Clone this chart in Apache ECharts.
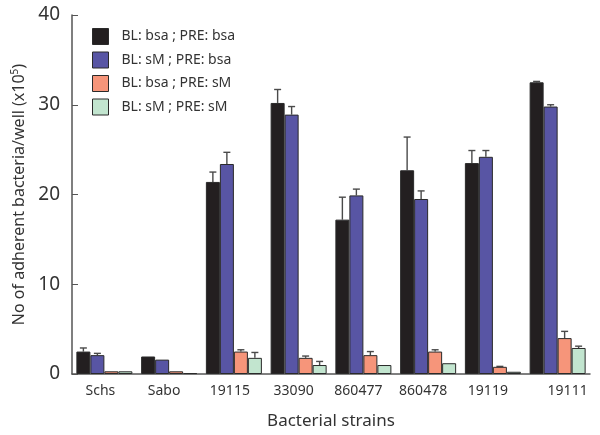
<!DOCTYPE html>
<html><head><meta charset="utf-8">
<script src="https://cdn.jsdelivr.net/npm/echarts@6/dist/echarts.min.js"></script>
<style>html,body{margin:0;padding:0;background:#fff}#c{width:600px;height:435px}</style>
</head><body><div id="c"></div>
<script>
const categories = ['Schs','Sabo','19115','33090','860477','860478','19119','19111'];
const seriesNames = ['BL: bsa ; PRE: bsa','BL: sM ; PRE: bsa','BL: bsa ; PRE: sM','BL: sM ; PRE: sM'];
const bsaBsa = [2.5, 1.95, 21.4, 30.2, 17.2, 22.7, 23.5, 32.5];
const bsaBsaErr = [0.4, 0, 1.1, 1.5, 2.5, 3.7, 1.4, 0.1];
const smBsa = [2.1, 1.6, 23.4, 28.9, 19.9, 19.5, 24.2, 29.8];
const smBsaErr = [0.2, 0, 1.3, 0.9, 0.7, 0.9, 0.7, 0.2];
const bsaSm = [0.3, 0.3, 2.5, 1.8, 2.1, 2.5, 0.8, 4.0];
const bsaSmErr = [0, 0, 0.2, 0.2, 0.4, 0.2, 0.05, 0.75];
const smSm = [0.3, 0.1, 1.8, 1.0, 1.0, 1.2, 0.25, 2.9];
const smSmErr = [0, 0, 0.6, 0.4, 0, 0, 0, 0.2];
const yTicks = [0, 10, 20, 30, 40];

const colors = ['#231f20', '#5855a4', '#f6957a', '#c2e5cf'];
const values = [bsaBsa, smBsa, bsaSm, smSm];
const errs = [bsaBsaErr, smBsaErr, bsaSmErr, smSmErr];
const BW = 14;
const FONT = 'Noto Sans';

const chart = echarts.init(document.getElementById('c'), null, {renderer: 'canvas'});

const series = [];
values.forEach((v, i) => {
  series.push({
    name: seriesNames[i], type: 'bar', data: v, barWidth: BW, barGap: '0%',
    itemStyle: {color: colors[i], borderColor: '#2a2a2a', borderWidth: 1},
    emphasis: {disabled: true}
  });
});
values.forEach((v, i) => {
  const d = v.map((val, k) => [k, val, val + errs[i][k]]);
  series.push({
    type: 'custom', silent: true, z: 1,
    data: d,
    renderItem: (params, api) => {
      const k = api.value(0);
      const lo = api.coord([k, api.value(1)]);
      const hi = api.coord([k, api.value(2)]);
      if (api.value(2) - api.value(1) <= 0) return null;
      const x = lo[0] + (i - 1.5) * BW;
      const style = {stroke: '#4a4a4a', lineWidth: 1.4};
      return {type: 'group', children: [
        {type: 'line', shape: {x1: x, y1: lo[1], x2: x, y2: hi[1]}, style},
        {type: 'line', shape: {x1: x - 3.5, y1: hi[1], x2: x + 3.5, y2: hi[1]}, style}
      ]};
    }
  });
});

const labelShift = [-4, -5, -4, -5, -5, -5, -5, 10];

chart.setOption({
  animation: false,
  textStyle: {fontFamily: FONT},
  grid: {left: 72, right: 10, top: 15, bottom: 58},
  legend: {
    orient: 'vertical', left: 87, top: 23, itemWidth: 16, itemHeight: 16, itemGap: 6.5,
    icon: 'rect',
    data: seriesNames.map((n, i) => ({name: n, itemStyle: {borderColor: '#2a2a2a', borderWidth: 1}})),
    textStyle: {fontFamily: FONT, fontSize: 14, color: '#333', padding: [0, 0, 0, 8]}
  },
  xAxis: {
    type: 'category',
    data: categories.map((c, k) => ({value: c, textStyle: {padding: labelShift[k] > 0 ? [0, 0, 0, 2 * labelShift[k]] : [0, -2 * labelShift[k], 0, 0]}})),
    name: 'Bacterial strains', nameLocation: 'middle', nameGap: 39,
    nameTextStyle: {fontFamily: FONT, fontSize: 17, color: '#333'},
    axisLine: {lineStyle: {color: '#555', width: 1.5}},
    axisTick: {inside: true, length: 4, lineStyle: {color: '#555'}},
    axisLabel: {fontFamily: FONT, fontSize: 14, color: '#333', margin: 10}
  },
  yAxis: {
    type: 'value', min: yTicks[0], max: yTicks[yTicks.length - 1], interval: 10,
    name: 'No of adherent bacteria/well (x10{sup|5})', nameLocation: 'middle', nameGap: 42, nameRotate: 90,
    nameTextStyle: {fontFamily: FONT, fontSize: 16, color: '#333', rich: {sup: {fontSize: 10, verticalAlign: 'top', padding: [0,0,8,0], fontFamily: FONT, color: '#333'}}},
    axisLine: {show: true, lineStyle: {color: '#555', width: 1.5}},
    axisTick: {show: true, inside: true, length: 6, lineStyle: {color: '#555'}},
    splitLine: {show: false},
    axisLabel: {fontFamily: FONT, fontSize: 19, color: '#333', margin: 12}
  },
  series
});
</script></body></html>
